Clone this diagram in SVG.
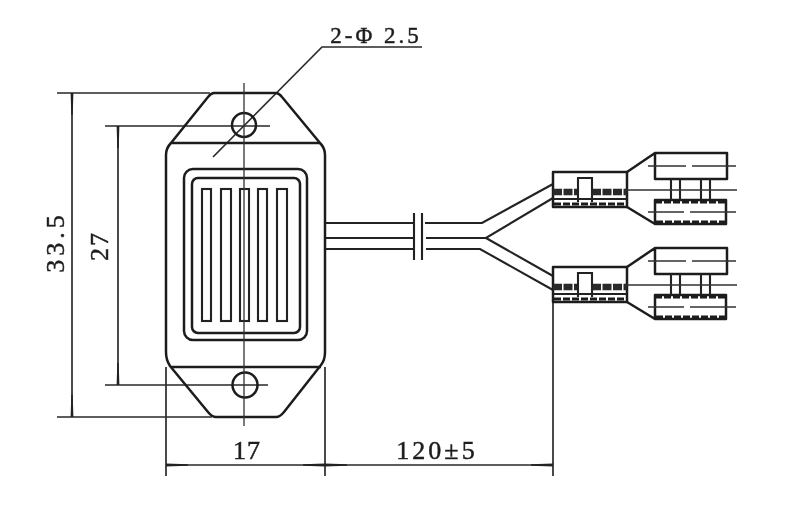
<svg xmlns="http://www.w3.org/2000/svg" width="800" height="529" viewBox="0 0 800 529">
<style>
.o{fill:none;stroke:#1c1c1c;stroke-width:2.5;stroke-linejoin:round}
.m{fill:none;stroke:#222;stroke-width:2.1}
.t{fill:none;stroke:#333;stroke-width:1.3}
.d{fill:none;stroke:#2a2a2a;stroke-width:1.7}
.c{fill:none;stroke:#333;stroke-width:1.3}
.h{fill:none;stroke:#1c1c1c;stroke-width:3.2;stroke-dasharray:7 2}
.b{fill:none;stroke:#2a2a2a;stroke-width:6.5;stroke-dasharray:9 1.5}
text{font-family:"Liberation Serif",serif;fill:#1c1c1c;stroke:#1c1c1c;stroke-width:.45;text-anchor:middle}
</style>
<defs>
<filter id="soft" x="0" y="0" width="100%" height="100%"><feGaussianBlur stdDeviation="0.55"/></filter>
<marker id="a" markerWidth="22" markerHeight="6" refX="22" refY="3" orient="auto" markerUnits="userSpaceOnUse"><path d="M0,2.3L22,1.6L22,4.4L0,3.7Z" fill="#222"/></marker>
<marker id="as" markerWidth="22" markerHeight="6" refX="0" refY="3" orient="auto" markerUnits="userSpaceOnUse"><path d="M22,2.3L0,1.6L0,4.4L22,3.7Z" fill="#222"/></marker>
<g id="term">
<path class="o" d="M553,172H627V207H553Z"/>
<path class="b" d="M553,192H578M592,192H627"/>
<path class="m" d="M578,202V178H592V202"/>
<path class="m" d="M553,199H627"/>
<path class="h" d="M554,204H626"/>
<path class="o" d="M627,172L655,153H727V179H655V153M627,207L655,224H726V200H655V224"/>
<path class="m" d="M671,179V200M680,179V200M701,179V200M710,179V200"/>
<path class="h" d="M655,202H726M656,222H725"/>
<path class="t" d="M648,166H686M692,166H736M627,190H737M648,212H684M690,212H736"/>
</g>
</defs>
<g filter="url(#soft)">
<g id="dimensions">
<path class="d" d="M57,93H210M57,417H212M105,126H270M105,385H268M166,367V476M325,367V476M553,295V476"/>
<path class="d" d="M72,93V417" marker-start="url(#as)" marker-end="url(#a)"/>
<path class="d" d="M118,126V385" marker-start="url(#as)" marker-end="url(#a)"/>
<path class="d" d="M166,465H325" marker-start="url(#as)" marker-end="url(#a)"/>
<path class="d" d="M325,465H553" marker-start="url(#as)" marker-end="url(#a)"/>
<path class="d" d="M213,157L322,47H422"/>
<text x="376" y="43" font-size="23" letter-spacing="3">2-Φ 2.5</text>
<text transform="translate(64,242) rotate(-90)" font-size="26" letter-spacing="4">33.5</text>
<text transform="translate(108,246) rotate(-90)" font-size="26" letter-spacing="2">27</text>
<text x="247" y="459" font-size="26" letter-spacing="1">17</text>
<text x="437" y="459" font-size="26" letter-spacing="3">120±5</text>
</g>
<g id="buzzer-body">
<path class="o" d="M214,93H276Q279,93 282,97L320,143Q325,148 325,155V352Q325,360 321,365L284,412Q280,417 276,417H216Q212,417 208,412L170,366Q166,360 166,352V155Q166,148 171,143L208,97Q211,93 214,93Z"/>
<path class="o" d="M172,143H320M171,367H321"/>
<rect class="o" x="184" y="169" width="123" height="171" rx="9"/>
<rect class="o" x="192" y="178" width="108" height="155" rx="6"/>
<rect class="m" x="202" y="189" width="9" height="132"/>
<rect class="m" x="221" y="189" width="10" height="132"/>
<rect class="m" x="240" y="189" width="9" height="132"/>
<rect class="m" x="258" y="189" width="9" height="132"/>
<rect class="m" x="277" y="189" width="10" height="132"/>
<circle class="o" cx="244" cy="125" r="12"/>
<circle class="o" cx="245" cy="385" r="12.5"/>
<path class="c" d="M244,83V426"/>
</g>
<g id="connectors">
<path class="m" d="M326,223H413M425,223H482L553,184"/>
<path class="m" d="M326,238H413M426,238H486L553,198M486,238L553,276"/>
<path class="m" d="M326,249H413M426,249H480L553,290"/>
<path class="m" d="M414,213V260M422,213V260"/>
</g>
<g id="terminal-1"><use href="#term"/></g>
<g id="terminal-2"><use href="#term" y="95"/></g>
</g>
</svg>
